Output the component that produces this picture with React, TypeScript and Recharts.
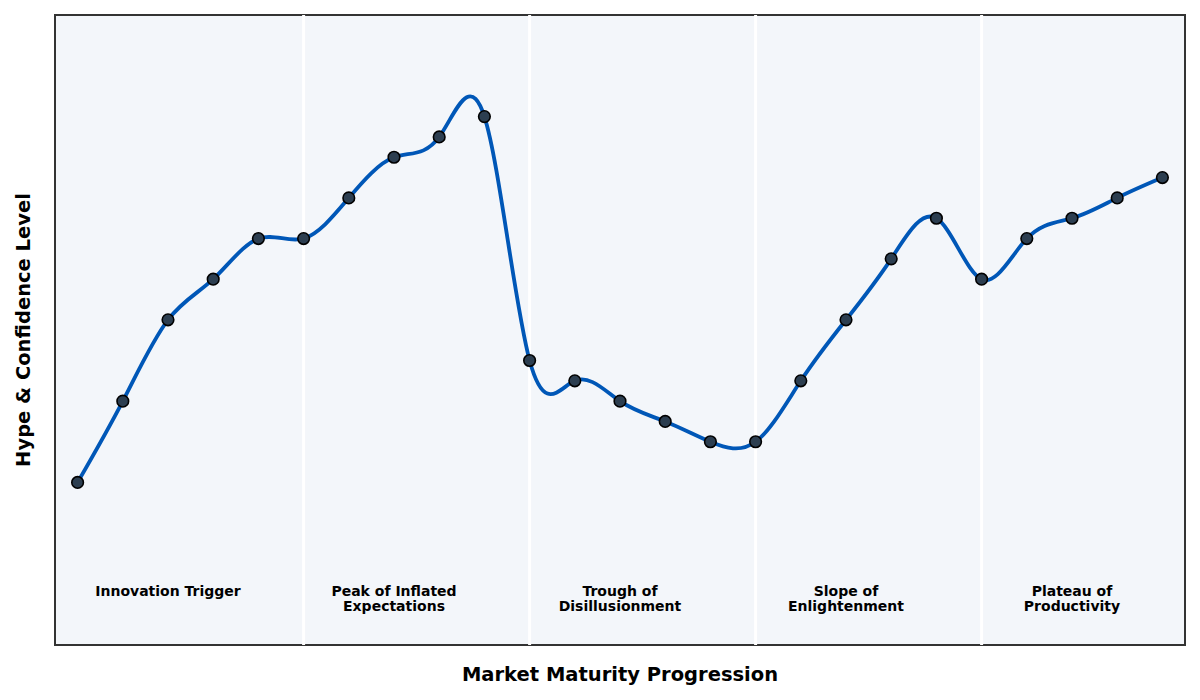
import React from "react";
import {
  ComposedChart,
  Line,
  XAxis,
  YAxis,
  ReferenceArea,
  ReferenceLine,
  ReferenceDot,
} from "recharts";

const steps = [0, 1, 2, 3, 4, 5, 6, 7, 8, 9, 10, 11, 12, 13, 14, 15, 16, 17, 18, 19, 20, 21, 22, 23, 24];
const hype = [10, 30, 50, 60, 70, 70, 80, 90, 95, 100, 40, 35, 30, 25, 20, 20, 35, 50, 65, 75, 60, 70, 75, 80, 85];
const phaseBoundaries = [5, 10, 15, 20];
const phaseCenters = [2, 7, 12, 17, 22];
const phaseLabels = [
  ["Innovation Trigger"],
  ["Peak of Inflated", "Expectations"],
  ["Trough of", "Disillusionment"],
  ["Slope of", "Enlightenment"],
  ["Plateau of", "Productivity"],
];

const data = steps.map((s, i) => ({ step: s, hype: hype[i] }));

const FONT = "'DejaVu Sans', sans-serif";

export default function App() {
  return (
    <div style={{ position: "absolute", left: 0, top: 0, width: 1200, height: 700, background: "#fff", fontFamily: FONT }}>
      <ComposedChart width={1200} height={700} data={data} margin={{ top: 15, right: 15, bottom: 55, left: 55 }}>
        <XAxis dataKey="step" type="number" domain={[-0.5, 24.5]} hide />
        <YAxis type="number" domain={[-30, 125]} hide />
        <ReferenceArea x1={-0.5} x2={24.5} y1={-30} y2={125} fill="#f3f6fa" fillOpacity={1} stroke="none" ifOverflow="visible" />
        {phaseBoundaries.map((b) => (
          <ReferenceLine key={b} x={b} stroke="#ffffff" strokeWidth={3} />
        ))}
        {phaseCenters.map((c, i) => (
          <ReferenceDot
            key={c}
            x={c}
            y={-16.7}
            r={0}
            ifOverflow="visible"
            shape={(p: any) => (
              <text
                x={p.cx}
                y={p.cy + 5}
                textAnchor="middle"
                fontFamily={FONT}
                fontWeight="bold"
                fontSize={14}
                fill="#000"
              >
                {phaseLabels[i].map((t, j) => (
                  <tspan key={j} x={p.cx} dy={j === 0 ? 0 : 15.5}>
                    {t}
                  </tspan>
                ))}
              </text>
            )}
          />
        ))}
        <Line
          type="natural"
          dataKey="hype"
          stroke="#0057b7"
          strokeWidth={3.8}
          isAnimationActive={false}
          dot={{ r: 5.8, fill: "#2c3e50", stroke: "#000", strokeWidth: 1.6 }}
          activeDot={false}
        />
        <ReferenceArea x1={-0.5} x2={24.5} y1={-30} y2={125} fill="none" stroke="#333" strokeWidth={2} ifOverflow="visible" />
      </ComposedChart>
      <div
        style={{
          position: "absolute",
          left: 0,
          top: 662,
          width: 1240,
          textAlign: "center",
          fontSize: 19.5,
          fontWeight: "bold",
          fontFamily: FONT,
          lineHeight: "26px",
        }}
      >
        Market Maturity Progression
      </div>
      <div
        style={{
          position: "absolute",
          left: 24,
          top: 330,
          transform: "translate(-50%, -50%) rotate(-90deg)",
          whiteSpace: "nowrap",
          fontSize: 19.5,
          fontWeight: "bold",
          fontFamily: FONT,
          lineHeight: "22px",
        }}
      >
        Hype &amp; Confidence Level
      </div>
    </div>
  );
}
